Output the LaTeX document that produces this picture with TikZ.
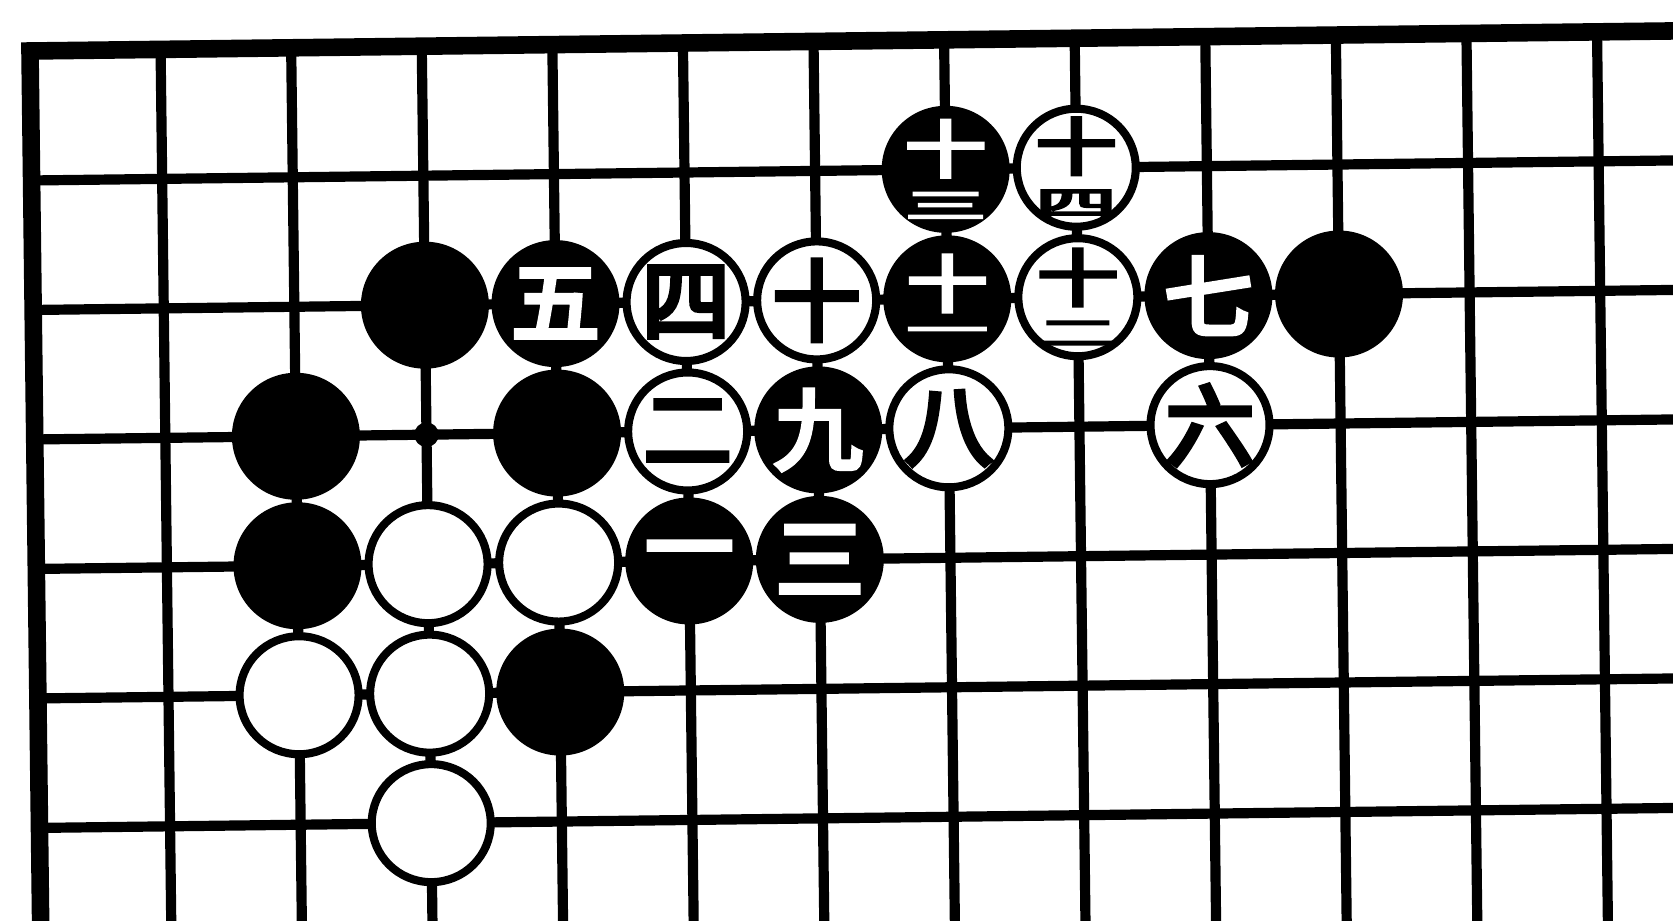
\documentclass[tikz,border=0pt]{standalone}
\usepackage{fontspec}
\usepackage{graphicx}
\newfontfamily\cjk[FakeBold=6]{Noto Sans CJK SC}
\usetikzlibrary{shapes.geometric}

\tikzset{
  gridline/.style={line width=2.9pt},
  edgeline/.style={line width=5pt, line join=miter},
  bstone/.style={ellipse, fill=black, inner sep=0pt, minimum width=1.28cm, minimum height=1.27cm},
  wstone/.style={ellipse, draw=black, fill=white, line width=2.3pt, inner sep=0pt, minimum width=1.19cm, minimum height=1.18cm},
  bnum/.style={inner sep=0pt, text=white, font=\cjk\fontsize{25}{25}\selectfont},
  wnum/.style={inner sep=0pt, text=black, font=\cjk\fontsize{25}{25}\selectfont},
  bnumtwo/.style={bnum, font=\cjk\fontsize{23}{23}\selectfont},
  wnumtwo/.style={wnum, font=\cjk\fontsize{23}{23}\selectfont}
}
\newcommand{\tenplus}[1]{\shortstack{\scalebox{1}[0.76]{十}\\[1.5pt]\scalebox{1}[0.42]{#1}}}

\begin{document}
\begin{tikzpicture}
    \useasboundingbox (0,0) rectangle (16.73,-9.21);
    \clip (0,0) rectangle (16.73,-9.21);
    \begin{scope}[shift={(0.30,-0.51)},rotate=0.7,x=1.306cm,y=-1.295cm]
    % --- board lines
    \foreach \c in {1,...,12}{\draw[gridline] (\c,0) -- (\c,7.6);}
    \foreach \r in {1,...,6}{\draw[gridline] (0,\r) -- (13.3,\r);}
    \draw[edgeline] (0,7.6) -- (0,0) -- (13.3,0);
    \fill (3,3) circle (3.5pt);
    % --- stones without numbers
    \foreach \c/\r/\n in {3/2/b1,10/2/b2,2/3/b3,4/3/b4,2/4/b5,4/5/b6}{
      \node[bstone] (\n) at (\c,\r) {};
    }
    \foreach \c/\r/\n in {3/4/w1,4/4/w2,2/5/w3,3/5/w4,3/6/w5}{
      \node[wstone] (\n) at (\c,\r) {};
    }
    % --- numbered stones
    \node[bstone] (m1) at (5,4) {};  \node[bnum] (m1t) at (m1) {一};
    \node[wstone] (m2) at (5,3) {};  \node[wnum] (m2t) at (m2) {二};
    \node[bstone] (m3) at (6,4) {};  \node[bnum] (m3t) at (m3) {三};
    \node[wstone] (m4) at (5,2) {};  \node[wnum] (m4t) at (m4) {四};
    \node[bstone] (m5) at (4,2) {};  \node[bnum] (m5t) at (m5) {五};
    \node[wstone] (m6) at (9,3) {};  \node[wnum] (m6t) at (m6) {六};
    \node[bstone] (m7) at (9,2) {};  \node[bnum] (m7t) at (m7) {七};
    \node[wstone] (m8) at (7,3) {};  \node[wnum] (m8t) at (m8) {八};
    \node[bstone] (m9) at (6,3) {};  \node[bnum] (m9t) at (m9) {九};
    \node[wstone] (m10) at (6,2) {}; \node[wnum] (m10t) at (m10) {十};
    \node[bstone] (m11) at (7,2) {}; \node[bnumtwo] (m11t) at (m11) {\tenplus{一}};
    \node[wstone] (m12) at (8,2) {}; \node[wnumtwo] (m12t) at (m12) {\tenplus{二}};
    \node[bstone] (m13) at (7,1) {}; \node[bnumtwo] (m13t) at (m13) {\tenplus{三}};
    \node[wstone] (m14) at (8,1) {}; \node[wnumtwo] (m14t) at (m14) {\tenplus{四}};
    \end{scope}
\end{tikzpicture}
\end{document}
